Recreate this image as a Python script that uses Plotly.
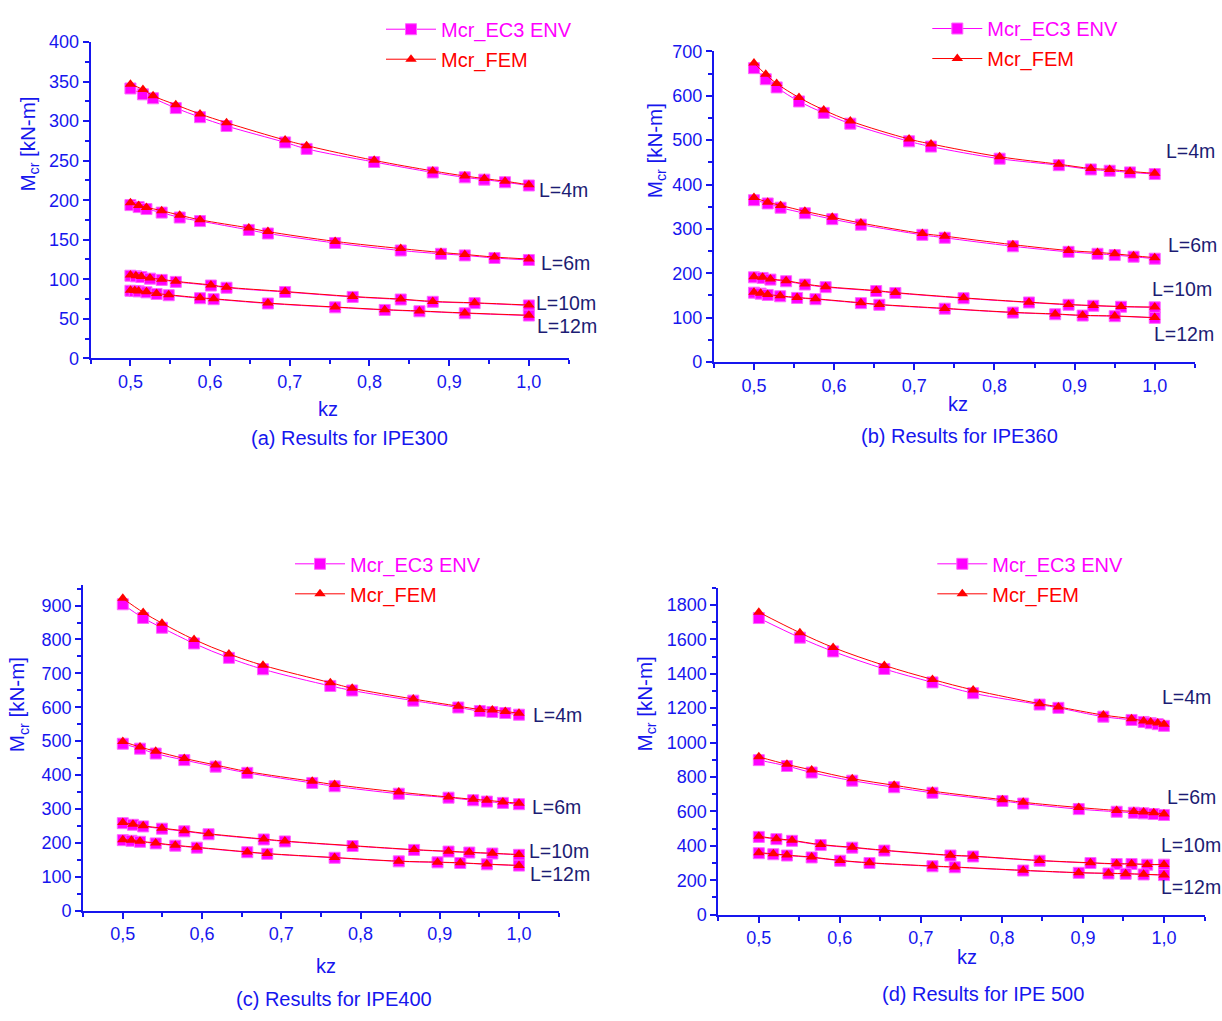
import plotly.graph_objects as go

W, H = 1222, 1021

# ---------------- data: critical moment Mcr [kN-m] versus kz ----------------
# (a) IPE300
KZ_A_L4 = [0.5, 0.5157, 0.5284, 0.5569, 0.5873, 0.6206, 0.6941, 0.7211, 0.8059, 0.8794, 0.9196, 0.9441, 0.9701, 1.0]
EC3_A_L4 = [341.3, 333.9, 328.9, 316.5, 305.0, 293.8, 273.1, 264.9, 248.3, 235.1, 228.9, 226.0, 222.7, 218.6]
FEM_A_L4 = [346.7, 340.0, 332.0, 320.7, 309.0, 298.0, 276.0, 269.0, 250.4, 237.0, 230.6, 227.3, 224.0, 219.4]
KZ_A_L6 = [0.5, 0.5103, 0.5201, 0.5392, 0.5618, 0.5873, 0.6485, 0.6725, 0.7569, 0.8392, 0.8897, 0.9196, 0.9569, 1.0]
EC3_A_L6 = [193.8, 191.3, 188.8, 184.3, 178.1, 173.6, 162.4, 157.9, 145.9, 136.4, 132.2, 130.2, 126.9, 124.4]
FEM_A_L6 = [196.7, 193.4, 190.9, 186.8, 181.0, 175.2, 164.9, 160.3, 147.9, 138.8, 133.9, 131.4, 128.1, 125.6]
KZ_A_L10 = [0.5, 0.5069, 0.5137, 0.5245, 0.5392, 0.5569, 0.601, 0.6206, 0.6941, 0.7789, 0.8392, 0.8794, 0.9319, 1.0]
EC3_A_L10 = [104.5, 103.7, 102.9, 100.8, 99.2, 96.7, 92.1, 89.3, 83.9, 77.7, 74.4, 71.5, 69.8, 66.9]
FEM_A_L10 = [105.4, 104.5, 103.6, 101.6, 99.9, 97.4, 92.8, 90.0, 84.5, 78.2, 74.9, 72.0, 70.2, 67.4]
KZ_A_L12 = [0.5, 0.5054, 0.5103, 0.5201, 0.5328, 0.548, 0.5873, 0.6044, 0.6725, 0.7569, 0.8191, 0.8627, 0.9196, 1.0]
EC3_A_L12 = [85.5, 85.1, 84.7, 83.5, 81.4, 79.8, 76.0, 74.8, 69.4, 64.5, 61.2, 59.5, 57.0, 54.1]
FEM_A_L12 = [86.2, 85.8, 85.3, 84.1, 82.0, 80.4, 76.6, 75.3, 69.9, 64.9, 61.6, 59.9, 57.4, 54.5]

# (b) IPE360
KZ_B_L4 = [0.5, 0.5147, 0.5283, 0.5562, 0.587, 0.6202, 0.6935, 0.7209, 0.8065, 0.8803, 0.9203, 0.9438, 0.9692, 1.0]
EC3_B_L4 = [662.4, 637.4, 619.0, 587.3, 561.5, 537.2, 497.4, 485.6, 458.3, 443.6, 434.0, 431.1, 427.4, 423.7]
FEM_B_L4 = [674.2, 648.4, 627.8, 596.1, 568.1, 543.1, 502.5, 491.5, 462.7, 445.8, 436.2, 434.0, 429.6, 425.2]
KZ_B_L6 = [0.5, 0.5171, 0.5332, 0.5635, 0.5977, 0.6334, 0.7101, 0.738, 0.823, 0.8925, 0.9286, 0.9501, 0.9736, 1.0]
EC3_B_L6 = [364.7, 357.4, 347.8, 335.3, 322.0, 309.5, 286.6, 280.0, 260.8, 248.3, 243.9, 241.0, 237.3, 232.8]
FEM_B_L6 = [370.6, 360.3, 353.0, 339.7, 326.4, 313.2, 289.6, 283.7, 264.5, 251.3, 246.9, 243.9, 239.5, 235.1]
KZ_B_L10 = [0.5, 0.5108, 0.5205, 0.5401, 0.5635, 0.5894, 0.6525, 0.6764, 0.7615, 0.8431, 0.8925, 0.9233, 0.958, 1.0]
EC3_B_L10 = [190.8, 189.4, 185.7, 182.0, 174.6, 168.7, 159.9, 155.5, 143.7, 134.1, 128.9, 126.7, 124.5, 123.1]
FEM_B_L10 = [192.3, 190.8, 187.0, 183.3, 175.8, 169.8, 160.9, 156.4, 144.5, 134.8, 129.6, 127.3, 125.1, 123.7]
KZ_B_L12 = [0.5, 0.5083, 0.5171, 0.5327, 0.5538, 0.5767, 0.6334, 0.6564, 0.738, 0.823, 0.8758, 0.9101, 0.9501, 1.0]
EC3_B_L12 = [156.2, 154.0, 151.1, 148.1, 144.4, 141.5, 132.6, 128.9, 120.1, 111.3, 107.6, 104.6, 103.2, 99.5]
FEM_B_L12 = [157.4, 155.1, 152.2, 149.1, 145.3, 142.4, 133.4, 129.6, 120.8, 111.9, 108.2, 105.1, 103.7, 100.0]

# (c) IPE400
KZ_C_L4 = [0.5, 0.5257, 0.5494, 0.5899, 0.6339, 0.6769, 0.7619, 0.7895, 0.8666, 0.9234, 0.9506, 0.9664, 0.9827, 1.0]
EC3_C_L4 = [903.8, 863.4, 834.5, 788.2, 745.8, 712.1, 662.9, 649.5, 619.6, 599.3, 588.8, 585.9, 583.0, 578.1]
FEM_C_L4 = [921.2, 879.8, 848.0, 799.8, 757.4, 723.7, 672.6, 656.2, 624.4, 603.2, 593.6, 591.7, 587.8, 582.0]
KZ_C_L6 = [0.5, 0.5217, 0.5415, 0.5776, 0.6171, 0.6571, 0.7391, 0.7673, 0.8483, 0.9111, 0.9422, 0.9595, 0.9797, 1.0]
EC3_C_L6 = [492.4, 477.9, 463.5, 444.2, 424.9, 406.6, 376.8, 367.1, 345.0, 333.4, 325.7, 321.8, 318.0, 314.1]
FEM_C_L6 = [499.1, 482.8, 470.2, 449.0, 429.8, 410.5, 381.6, 371.9, 349.8, 335.3, 328.6, 325.7, 320.9, 317.0]
KZ_C_L10 = [0.5, 0.5128, 0.5257, 0.5494, 0.5776, 0.6082, 0.6779, 0.7045, 0.79, 0.8676, 0.9111, 0.9373, 0.9664, 1.0]
EC3_C_L10 = [258.2, 253.4, 248.6, 241.9, 234.1, 225.5, 210.1, 204.3, 190.8, 179.3, 174.4, 171.5, 168.6, 164.8]
FEM_C_L10 = [260.1, 255.2, 250.3, 243.5, 235.6, 226.9, 211.3, 205.4, 191.8, 180.2, 175.2, 172.3, 169.4, 165.6]
KZ_C_L12 = [0.5, 0.5109, 0.5217, 0.5415, 0.5662, 0.5934, 0.6571, 0.6823, 0.7673, 0.8483, 0.8972, 0.9259, 0.9595, 1.0]
EC3_C_L12 = [208.1, 206.2, 203.3, 198.5, 191.8, 186.0, 172.5, 167.7, 156.1, 145.5, 142.6, 140.7, 136.8, 133.0]
FEM_C_L12 = [209.6, 207.6, 204.6, 199.7, 192.9, 187.0, 173.4, 168.5, 156.8, 146.1, 143.2, 141.3, 137.4, 133.6]

# (d) IPE 500
KZ_D_L4 = [0.5, 0.5507, 0.5917, 0.6549, 0.7143, 0.7645, 0.8465, 0.8697, 0.9252, 0.96, 0.9749, 0.9836, 0.9923, 1.0]
EC3_D_L4 = [1724, 1610, 1530, 1428, 1350, 1287, 1221, 1202, 1150.6, 1131.6, 1120, 1112.6, 1107, 1097.4]
FEM_D_L4 = [1758, 1638.5, 1553, 1448.6, 1367, 1306, 1226.5, 1207.5, 1160, 1139, 1126, 1120, 1114.5, 1107]
KZ_D_L6 = [0.5, 0.5347, 0.5652, 0.6153, 0.667, 0.7143, 0.8007, 0.8263, 0.8948, 0.9416, 0.9628, 0.9749, 0.9874, 1.0]
EC3_D_L6 = [898, 863.9, 826, 778.7, 740.5, 708.2, 660.7, 645.5, 613.3, 598, 592.4, 588.6, 584.8, 579.1]
FEM_D_L6 = [917, 873.4, 841, 790, 752, 717.7, 668.3, 653, 622.7, 605.7, 600, 596, 592.4, 584.8]
KZ_D_L10 = [0.5, 0.5217, 0.541, 0.5763, 0.6153, 0.6549, 0.7365, 0.7645, 0.8465, 0.9093, 0.9416, 0.96, 0.9793, 1.0]
EC3_D_L10 = [451.9, 438.6, 429.1, 404.4, 389.2, 372.1, 343.6, 338.0, 313.3, 300.0, 294.3, 294.3, 290.5, 290.5]
FEM_D_L10 = [455.0, 441.5, 431.8, 407.0, 391.6, 374.3, 345.5, 339.8, 314.9, 301.4, 295.7, 295.6, 291.8, 291.7]
KZ_D_L12 = [0.5, 0.5179, 0.5347, 0.5652, 0.6004, 0.6366, 0.7143, 0.7418, 0.8263, 0.8948, 0.9315, 0.9527, 0.9749, 1.0]
EC3_D_L12 = [357.0, 351.0, 343.6, 332.3, 313.3, 300.0, 281.0, 275.3, 256.3, 243.0, 239.2, 237.3, 233.5, 229.7]
FEM_D_L12 = [359.5, 353.4, 345.9, 334.4, 315.2, 301.7, 282.5, 276.7, 257.5, 244.1, 240.2, 238.3, 234.5, 230.6]

SPAN_LABELS = ["L=4m", "L=6m", "L=10m", "L=12m"]
PANEL_TITLES = ["(a) Results for IPE300", "(b) Results for IPE360",
                "(c) Results for IPE400", "(d) Results for IPE 500"]

X_TICKS = [0.5, 0.6, 0.7, 0.8, 0.9, 1.0]
X_TICK_TEXT = ["0,5", "0,6", "0,7", "0,8", "0,9", "1,0"]
Y_TICKS_A = [0, 50, 100, 150, 200, 250, 300, 350, 400]
Y_TICKS_B = [0, 100, 200, 300, 400, 500, 600, 700]
Y_TICKS_C = [0, 100, 200, 300, 400, 500, 600, 700, 800, 900]
Y_TICKS_D = [0, 200, 400, 600, 800, 1000, 1200, 1400, 1600, 1800]

# ---------------- styling ----------------
FONT = "Liberation Sans, Arial, sans-serif"
AXIS_BLUE = "#1616EE"
LABEL_NAVY = "#1C1C74"
EC3_COLOR = "#FF00FF"
FEM_COLOR = "#FF0000"


def px(x):
    return x / W


def py(y):
    return 1 - y / H


# pixel boxes of the plotting areas: (left, right, top, bottom)
panels = [
    dict(box=(90.6, 568.7, 32.7, 355.3), yr=[0, 400], yt=Y_TICKS_A, ym=25,
         series=[(KZ_A_L4, EC3_A_L4, FEM_A_L4), (KZ_A_L6, EC3_A_L6, FEM_A_L6),
                 (KZ_A_L10, EC3_A_L10, FEM_A_L10), (KZ_A_L12, EC3_A_L12, FEM_A_L12)],
         lab_pos=[(537, 184), (539, 258), (534.4, 299.3), (535.2, 322.7)],
         kz=(328, 406.7), title=(349.6, 436.7), ytitle=(29.3, 137),
         legend=(386, 20.7)),
    dict(box=(713.9, 1194.8, 42.3, 359), yr=[0, 700], yt=Y_TICKS_B, ym=50,
         series=[(KZ_B_L4, EC3_B_L4, FEM_B_L4), (KZ_B_L6, EC3_B_L6, FEM_B_L6),
                 (KZ_B_L10, EC3_B_L10, FEM_B_L10), (KZ_B_L12, EC3_B_L12, FEM_B_L12)],
         lab_pos=[(1163.9, 144), (1165.5, 239.3), (1150.2, 285), (1152.2, 330)],
         kz=(957.7, 401.7), title=(959.6, 435), ytitle=(656, 144),
         legend=(932.3, 20)),
    dict(box=(83.2, 558.6, 586.7, 918.7), yr=[0, 960], yt=Y_TICKS_C, ym=50,
         series=[(KZ_C_L4, EC3_C_L4, FEM_C_L4), (KZ_C_L6, EC3_C_L6, FEM_C_L6),
                 (KZ_C_L10, EC3_C_L10, FEM_C_L10), (KZ_C_L12, EC3_C_L12, FEM_C_L12)],
         lab_pos=[(531.3, 719.3), (530, 813.3), (526.6, 858.3), (528, 881.7)],
         kz=(326.2, 975), title=(334, 1008.3), ytitle=(18.75, 708.3),
         legend=(295, 566)),
    dict(box=(718.3, 1204.5, 589.3, 922.7), yr=[0, 1900], yt=Y_TICKS_D, ym=100,
         series=[(KZ_D_L4, EC3_D_L4, FEM_D_L4), (KZ_D_L6, EC3_D_L6, FEM_D_L6),
                 (KZ_D_L10, EC3_D_L10, FEM_D_L10), (KZ_D_L12, EC3_D_L12, FEM_D_L12)],
         lab_pos=[(1160, 701), (1165, 802.7), (1158.5, 851.7), (1158.5, 895)],
         kz=(967.4, 966), title=(983.4, 1003.3), ytitle=(646, 708.3),
         legend=(937.3, 566)),
]

fig = go.Figure()
annotations = []
layout_axes = {}

for i, p in enumerate(panels):
    n = "" if i == 0 else str(i + 1)
    xa, ya = "x" + n, "y" + n
    leg = "legend" + n
    left, right, top, bottom = p["box"]

    for j, (kz, ec3, fem) in enumerate(p["series"]):
        first = j == 0
        fig.add_trace(go.Scatter(
            x=kz, y=ec3, xaxis=xa, yaxis=ya, mode="lines+markers",
            line=dict(color=EC3_COLOR, width=1, shape="spline", smoothing=1),
            marker=dict(symbol="square", size=11, color=EC3_COLOR,
                        line=dict(width=1, color="#FF66FF")),
            name='<span style="color:#FF00FF">Mcr_EC3 ENV</span>',
            legend=leg, legendgroup=f"ec3{i}", showlegend=first))
        fig.add_trace(go.Scatter(
            x=kz, y=fem, xaxis=xa, yaxis=ya, mode="lines+markers",
            line=dict(color=FEM_COLOR, width=1, shape="spline", smoothing=1),
            marker=dict(symbol="triangle-up", size=10, color=FEM_COLOR),
            name='<span style="color:#FF0000">Mcr_FEM</span>',
            legend=leg, legendgroup=f"fem{i}", showlegend=first))

    common = dict(
        showline=True, linecolor=AXIS_BLUE, linewidth=2, mirror=False,
        ticks="outside", ticklen=6, tickwidth=1.5, tickcolor=AXIS_BLUE,
        showgrid=False, zeroline=False,
        tickfont=dict(family=FONT, size=18, color=AXIS_BLUE),
    )
    layout_axes["xaxis" + n] = dict(
        common, domain=[px(left), px(right)], anchor=ya, range=[0.45, 1.05],
        tickmode="array", tickvals=X_TICKS, ticktext=X_TICK_TEXT,
        minor=dict(tickmode="linear", tick0=0.45, dtick=0.05, ticklen=4,
                   tickwidth=1.5, tickcolor=AXIS_BLUE, ticks="outside"),
    )
    layout_axes["yaxis" + n] = dict(
        common, domain=[py(bottom), py(top)], anchor=xa, range=p["yr"],
        tickmode="array", tickvals=p["yt"], ticktext=[str(v) for v in p["yt"]],
        minor=dict(tickmode="linear", tick0=0, dtick=p["ym"], ticklen=4,
                   tickwidth=1.5, tickcolor=AXIS_BLUE, ticks="outside"),
    )

    lx, ly = p["legend"]
    layout_axes[leg] = dict(
        x=px(lx - 5), y=py(ly - 21), xanchor="left", yanchor="top",
        bgcolor="rgba(0,0,0,0)", borderwidth=0, itemwidth=50,
        tracegroupgap=1, font=dict(family=FONT, size=20),
        itemclick=False, itemdoubleclick=False,
    )

    for label, (tx, ty) in zip(SPAN_LABELS, p["lab_pos"]):
        annotations.append(dict(
            text=label, x=px(tx), y=py(ty), xref="paper", yref="paper",
            xanchor="left", yanchor="middle", showarrow=False,
            font=dict(family=FONT, size=19.5, color=LABEL_NAVY)))

    annotations.append(dict(
        text="kz", x=px(p["kz"][0]), y=py(p["kz"][1]), xref="paper", yref="paper",
        xanchor="center", yanchor="middle", showarrow=False,
        font=dict(family=FONT, size=20, color=AXIS_BLUE)))
    annotations.append(dict(
        text=PANEL_TITLES[i], x=px(p["title"][0]), y=py(p["title"][1]),
        xref="paper", yref="paper", xanchor="center", yanchor="middle",
        showarrow=False, font=dict(family=FONT, size=20, color=AXIS_BLUE)))
    annotations.append(dict(
        text="M<sub>cr</sub> [kN-m]", x=px(p["ytitle"][0]), y=py(p["ytitle"][1]),
        xref="paper", yref="paper", xanchor="center", yanchor="middle",
        textangle=-90, showarrow=False,
        font=dict(family=FONT, size=20.5, color=AXIS_BLUE)))

fig.update_layout(
    width=W, height=H, margin=dict(l=0, r=0, t=0, b=0),
    paper_bgcolor="white", plot_bgcolor="white",
    annotations=annotations, **layout_axes,
)

fig.write_html("out.html")
